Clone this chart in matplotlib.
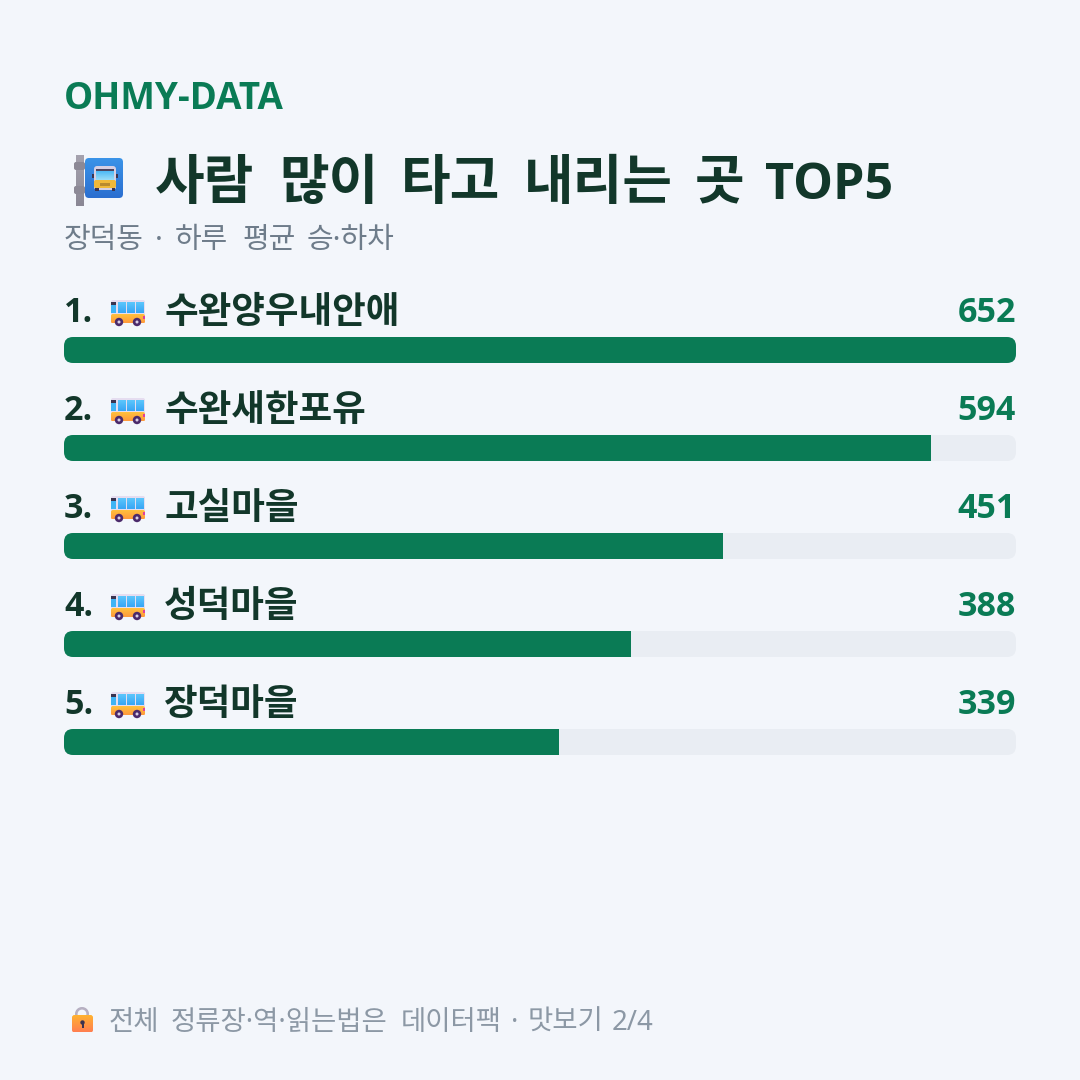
import matplotlib
matplotlib.use("Agg")
import matplotlib.pyplot as plt
import numpy as np
from matplotlib.colors import LinearSegmentedColormap
from matplotlib.patches import Circle, FancyBboxPatch, Rectangle, Wedge

# Stop names and average daily boardings/alightings
ranks = ["1.", "2.", "3.", "4.", "5."]
stops = ["수완양우내안애", "수완새한포유", "고실마을", "성덕마을", "장덕마을"]
riders = [652, 594, 451, 388, 339]

brand = "OHMY-DATA"
title_words = ["사람", "많이", "타고", "내리는", "곳"]
title_x = [155, 279, 401, 524, 695]
title_tail = "TOP5"
subtitle_words = ["장덕동", "·", "하루", "평균", "승·하차"]
subtitle_x = [64, 155, 175, 242, 307]
footer_words = ["전체", "정류장·역·읽는법은", "데이터팩", "·", "맛보기", "2/4"]
footer_x = [109, 171, 401, 511, 528, 612]

BG = "#F3F6FB"
GREEN = "#0A7B55"
DARK = "#12372A"
TRACK = "#E9EDF3"
GREY = "#6E7C8A"
FOOT = "#8C98A5"
REGULAR = ["Noto Sans", "Noto Sans CJK KR", "DejaVu Sans"]
BOLD = ["Open Sans", "Noto Sans CJK KR", "DejaVu Sans"]

W = H = 1080
fig = plt.figure(figsize=(10.8, 10.8), dpi=100, facecolor=BG)

# Page layer in pixel units, y pointing down
page = fig.add_axes([0, 0, 1, 1])
page.set_xlim(0, W)
page.set_ylim(H, 0)
page.axis("off")

# Bar layer spans the bar column: x is riders, y is rank position
BAR_L, BAR_R = 64, 1016
ROW_TOP, ROW_STEP, BAR_H = 337, 98, 26
bars = fig.add_axes([BAR_L / W, 0, (BAR_R - BAR_L) / W, 1], zorder=2)
bars.set_xlim(0, max(riders))
bars.set_ylim(H, 0)
bars.axis("off")
bars.patch.set_alpha(0)


def label(x, y, s, size_px, color, weight="normal", ha="left"):
    page.text(x, y, s, fontsize=size_px * 0.72, color=color, weight=weight,
              family=BOLD if weight == "bold" else REGULAR, ha=ha, va="baseline")


def gradient(x0, x1, y0, y1, colors, clip, zorder=5):
    cmap = LinearSegmentedColormap.from_list("g", colors)
    img = page.imshow(np.linspace(0, 1, 32)[:, None], cmap=cmap, aspect="auto",
                      extent=(x0, x1, y1, y0), zorder=zorder)
    img.set_clip_path(clip)
    page.set_xlim(0, W)
    page.set_ylim(H, 0)


def rounded(x, y, w, h, r, color="none", zorder=5):
    p = FancyBboxPatch((x + r, y + r), w - 2 * r, h - 2 * r,
                       boxstyle=f"round,pad={r},rounding_size={r}",
                       fc=color, ec="none", zorder=zorder)
    page.add_patch(p)
    return p


def small_bus(x, y):
    # Side-view bus, origin at its upper-left corner
    rounded(x, y, 34, 17, 2, "#E5DDF0")
    body = rounded(x, y + 14, 34, 9.5, 2)
    gradient(x, x + 34, y + 14, y + 23.5, ["#FFC53D", "#FF9A3C"], body)
    page.add_patch(Rectangle((x, y + 2), 5, 3, fc="#3A3450", ec="none", zorder=6))
    page.add_patch(Rectangle((x, y + 5), 5, 8, fc="#3FB4F5", ec="none", zorder=6))
    for dx in (6.5, 15.5, 24.5):
        w = Rectangle((x + dx, y + 2), 7.5, 11, fc="none", ec="none", zorder=6)
        page.add_patch(w)
        gradient(x + dx, x + dx + 7.5, y + 2, y + 13, ["#5CC6FC", "#37A6F5"], w, zorder=6)
    page.add_patch(Rectangle((x + 32, y + 16), 2, 3, fc="#E0409A", ec="none", zorder=7))
    for dx in (8, 26):
        page.add_patch(Circle((x + dx, y + 22), 4.2, fc="#4B2A6B", ec="none", zorder=7))
        page.add_patch(Circle((x + dx, y + 22), 1.5, fc="#D9CFE6", ec="none", zorder=8))


def stop_sign():
    # Pole with clamps, blue sign plate and a front-view bus
    pole = Rectangle((76, 155), 8, 51, fc="none", ec="none", zorder=4)
    page.add_patch(pole)
    gradient(76, 84, 155, 206, ["#A5A2AE", "#8A8794"], pole, zorder=4)
    rounded(74, 162, 11, 8, 2, "#8C8996", zorder=5)
    rounded(74, 186, 11, 8, 2, "#8C8996", zorder=5)
    plate = rounded(85, 158, 38, 40, 4)
    gradient(85, 123, 158, 198, ["#3A93E8", "#2B6FD0"], plate)
    rounded(94, 166, 22, 24, 3, "#D5CFE3", zorder=6)
    page.add_patch(Rectangle((96, 169), 18, 2.5, fc="#4A4460", ec="none", zorder=7))
    glass = Rectangle((96, 171), 18, 9, fc="none", ec="none", zorder=7)
    page.add_patch(glass)
    gradient(96, 114, 171, 180, ["#4DB9F5", "#9BDDF8"], glass, zorder=7)
    rounded(94, 180, 22, 8, 2, "#F0B93A", zorder=8)
    page.add_patch(Rectangle((100, 183), 10, 2.5, fc="#B98A2E", ec="none", zorder=9))
    page.add_patch(Rectangle((95, 188), 3.5, 2.5, fc="#3A3450", ec="none", zorder=7))
    page.add_patch(Rectangle((111.5, 188), 3.5, 2.5, fc="#3A3450", ec="none", zorder=7))
    page.add_patch(Rectangle((92.3, 174), 1.8, 4, fc="#3A3450", ec="none", zorder=7))
    page.add_patch(Rectangle((115.9, 174), 1.8, 4, fc="#3A3450", ec="none", zorder=7))


def lock():
    page.add_patch(Wedge((82, 1014), 7, 0, 360, width=2.6, fc="#B7B0C2", ec="none", zorder=4))
    body = rounded(72, 1015, 21, 17.5, 2.5)
    gradient(72, 93, 1015, 1032.5, ["#FFB52E", "#FF7F50"], body)
    page.add_patch(Circle((82.5, 1022.5), 2.2, fc="#3B3350", ec="none", zorder=7))
    page.add_patch(Rectangle((81.5, 1022.5), 2, 5, fc="#3B3350", ec="none", zorder=7))


label(64, 109, brand, 36.8, GREEN, "bold")
stop_sign()
for word, x in zip(title_words, title_x):
    label(x, 198.5, word, 54, DARK, "bold")
label(765, 199, title_tail, 50.3, DARK, "bold")
for word, x in zip(subtitle_words, subtitle_x):
    label(x, 248, word, 29, GREY)

rows = [ROW_TOP + i * ROW_STEP + BAR_H / 2 for i in range(len(stops))]
for rank, stop, value, yc in zip(ranks, stops, riders, rows):
    top = yc - BAR_H / 2
    track = rounded(BAR_L, top, BAR_R - BAR_L, BAR_H, 9, TRACK, zorder=1)
    bar = bars.barh(yc, value, height=BAR_H, color=GREEN, linewidth=0)[0]
    bar.set_clip_path(track.get_path(), track.get_transform())
    base = top - 15
    label(64, base, rank, 34, DARK, "bold")
    small_bus(111, top - 37)
    label(164, base + 1, stop, 36.6, DARK, "bold")
    label(BAR_R, base, f"{value}", 34, GREEN, "bold", ha="right")

lock()
for word, x in zip(footer_words, footer_x):
    label(x, 1030, word, 27.5, FOOT)

fig.savefig("out.png", dpi=100, facecolor=BG)
